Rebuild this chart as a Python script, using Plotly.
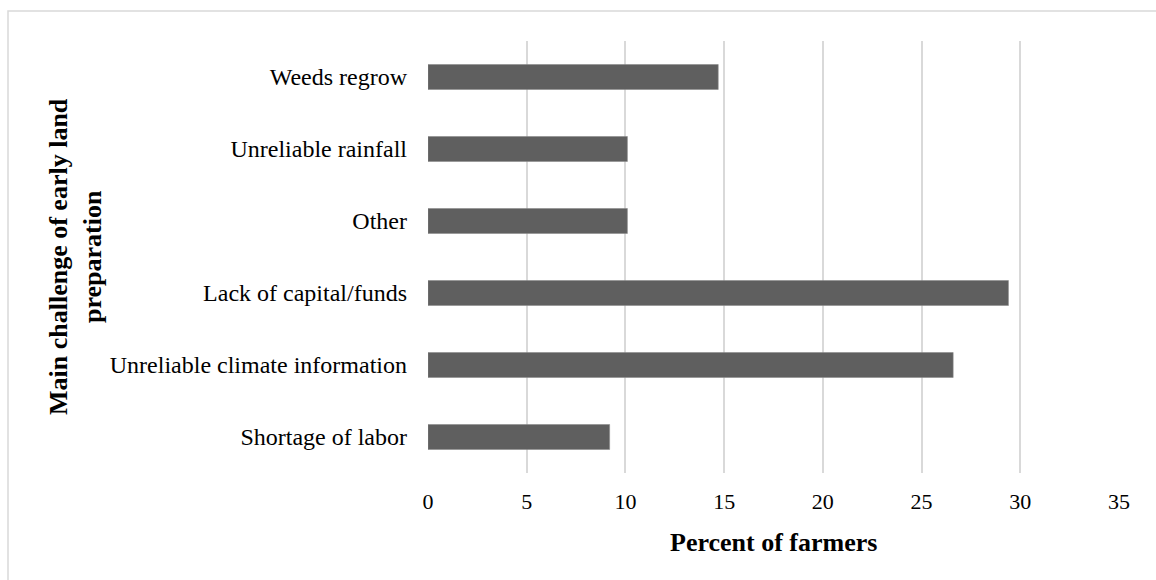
import plotly.graph_objects as go

# Survey results: main challenge of early land preparation
challenges = [
    "Shortage of labor",
    "Unreliable climate information",
    "Lack of capital/funds",
    "Other",
    "Unreliable rainfall",
    "Weeds regrow",
]
percent_farmers = [9.2, 26.6, 29.4, 10.1, 10.1, 14.7]
x_ticks = [0, 5, 10, 15, 20, 25, 30, 35]

W, H = 1156, 580
L, R, T, B = 428, 37, 41, 107
plot_w = W - L - R
plot_h = H - T - B

serif = "Liberation Serif, Times New Roman, serif"

fig = go.Figure(
    go.Bar(
        x=percent_farmers,
        y=challenges,
        orientation="h",
        marker=dict(color="#5f5f5f", line=dict(color="#8c8c8c", width=0.6)),
        hoverinfo="x+y",
    )
)


def px_to_paper_x(px):
    return (px - L) / plot_w


def px_to_paper_y(py):
    return (H - B - py) / plot_h


fig.update_layout(
    width=W,
    height=H,
    margin=dict(l=L, r=R, t=T, b=B),
    paper_bgcolor="white",
    plot_bgcolor="white",
    bargap=0.653,
    showlegend=False,
    font=dict(family=serif, size=22, color="black"),
    xaxis=dict(
        range=[0, 35],
        tickvals=x_ticks,
        ticktext=[str(v) for v in x_ticks],
        showgrid=True,
        gridcolor="#d9d9d9",
        gridwidth=1.5,
        zeroline=False,
        showline=False,
        ticks="",
        ticklabelstandoff=13,
        tickfont=dict(family=serif, size=22, color="black"),
        fixedrange=True,
    ),
    yaxis=dict(
        categoryorder="array",
        categoryarray=challenges,
        showgrid=False,
        zeroline=False,
        showline=False,
        ticks="",
        ticklabelstandoff=20,
        tickfont=dict(family=serif, size=24, color="black"),
        fixedrange=True,
    ),
    shapes=[
        # outer chart frame (left and top edges visible)
        dict(
            type="rect",
            xref="paper",
            yref="paper",
            x0=px_to_paper_x(8),
            x1=px_to_paper_x(1170),
            y0=px_to_paper_y(600),
            y1=px_to_paper_y(11),
            line=dict(color="#d9d9d9", width=1.5),
            fillcolor="rgba(0,0,0,0)",
            layer="below",
        )
    ],
    annotations=[
        dict(
            text="<b>Percent of farmers</b>",
            xref="paper",
            yref="paper",
            x=0.5,
            y=px_to_paper_y(542),
            xanchor="center",
            yanchor="middle",
            showarrow=False,
            font=dict(family=serif, size=26, color="black"),
        ),
        dict(
            text="<b>Main challenge of early land<br>preparation</b>",
            xref="paper",
            yref="paper",
            x=px_to_paper_x(75),
            y=px_to_paper_y(257),
            xanchor="center",
            yanchor="middle",
            textangle=-90,
            showarrow=False,
            font=dict(family=serif, size=26, color="black"),
        ),
    ],
)

fig.write_html("out.html", config={"displayModeBar": False})
